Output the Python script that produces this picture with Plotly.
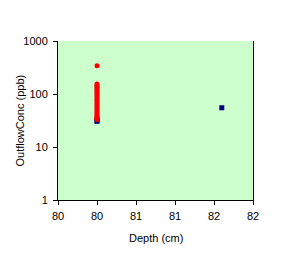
import plotly.graph_objects as go

red_x = [80] * 29
red_y = [342, 155, 148, 140, 132, 125, 118, 110, 104, 98, 92, 86, 80, 75, 70,
         65, 61, 57, 53, 50, 47, 44, 41, 39, 37, 36, 35, 34, 33]
blue_x = [80, 80, 81.6]
blue_y = [31.5, 30.5, 55]

x_ticks = [79.5, 80.0, 80.5, 81.0, 81.5, 82.0]
x_labels = ["80", "80", "81", "81", "82", "82"]
y_ticks = [1, 10, 100, 1000]
y_labels = ["1", "10", "100", "1000"]

fig = go.Figure()
fig.add_trace(go.Scatter(x=blue_x, y=blue_y, mode="markers",
                         marker=dict(symbol="square", size=5, color="#000080"),
                         showlegend=False))
fig.add_trace(go.Scatter(x=red_x, y=red_y, mode="markers",
                         marker=dict(symbol="circle", size=5, color="#FF0000"),
                         showlegend=False))

font = dict(family="Liberation Sans, Arial, sans-serif", size=11, color="black")
fig.update_layout(
    width=285, height=271,
    margin=dict(l=58, r=32, t=41, b=71),
    paper_bgcolor="white", plot_bgcolor="#CCFFCC",
    font=font,
    xaxis=dict(range=[79.5, 82], tickvals=x_ticks, ticktext=x_labels,
               showgrid=False, zeroline=False, showline=True, linecolor="black",
               linewidth=1, ticks="outside", ticklen=4, tickcolor="black",
               ticklabelstandoff=2, automargin=False),
    yaxis=dict(type="log", range=[0, 3], tickvals=y_ticks, ticktext=y_labels,
               showgrid=False, zeroline=False, showline=True, linecolor="black",
               linewidth=1, mirror=True, ticks="outside", ticklen=4, tickcolor="black",
               ticklabelstandoff=3, automargin=False),
    annotations=[
        dict(text="Depth (cm)", xref="paper", yref="paper", x=0.5, y=-0.239,
             xanchor="center", yanchor="middle", showarrow=False, font=font),
        dict(text="OutflowConc (ppb)", xref="paper", yref="paper", x=-0.2, y=0.5,
             xanchor="center", yanchor="middle", textangle=-90, showarrow=False,
             font=font),
    ],
)
fig.write_html("out.html")
